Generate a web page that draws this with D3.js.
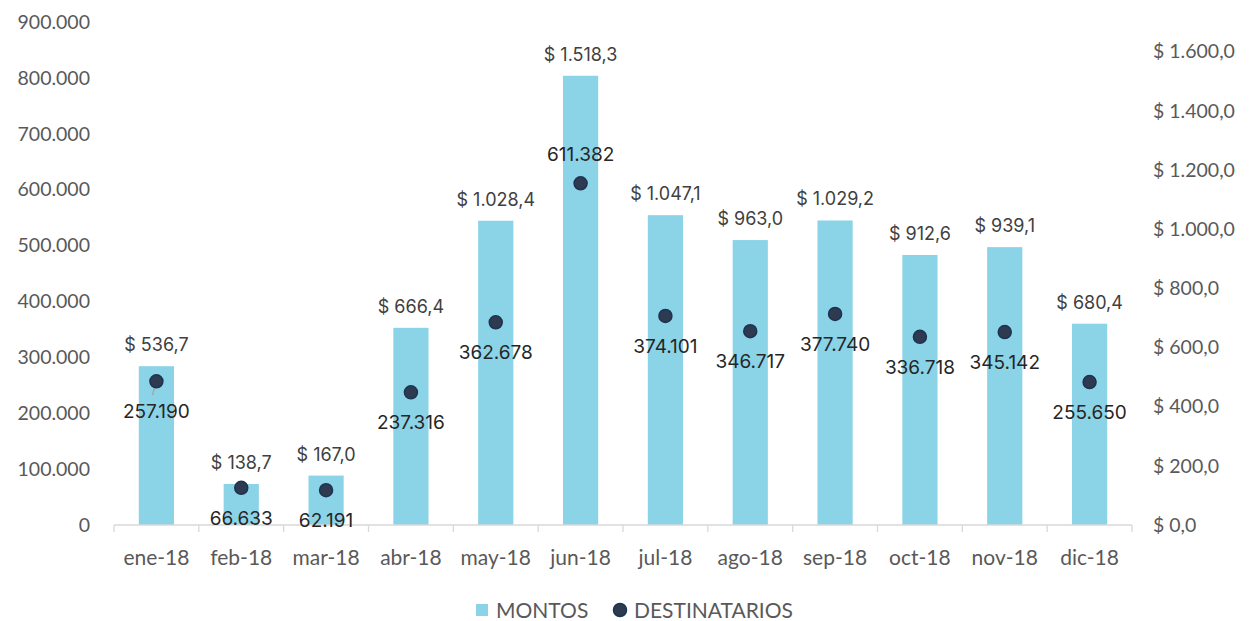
<!DOCTYPE html>
<html>
<head>
<meta charset="utf-8">
<script src="https://cdn.jsdelivr.net/npm/d3@7"></script>
<style>
  body { margin: 0; background: #fff; }
  .tick text { fill: #595959; }
</style>
</head>
<body>
<svg id="chart" width="1259" height="621"></svg>
<script>
var categories = ['ene-18', 'feb-18', 'mar-18', 'abr-18', 'may-18', 'jun-18', 'jul-18', 'ago-18', 'sep-18', 'oct-18', 'nov-18', 'dic-18'];
var montos = [536.7, 138.7, 167.0, 666.4, 1028.4, 1518.3, 1047.1, 963.0, 1029.2, 912.6, 939.1, 680.4];
var destinatarios = [257190, 66633, 62191, 237316, 362678, 611382, 374101, 346717, 377740, 336718, 345142, 255650];
var leftTicks = [0, 100000, 200000, 300000, 400000, 500000, 600000, 700000, 800000, 900000];
var rightTicks = [0, 200, 400, 600, 800, 1000, 1200, 1400, 1600];
var labelAbove = ['jun-18'];

var locale = d3.formatLocale({ decimal: ',', thousands: '.', grouping: [3], currency: ['$ ', ''] });
var fmtInt = locale.format(',d');
var fmtMoney = function (v) { return '$ ' + locale.format(',.1f')(v); };

var margin = { top: 22, right: 127, bottom: 96, left: 114 },
    width = 1259 - margin.left - margin.right,
    height = 621 - margin.top - margin.bottom;

var svg = d3.select('#chart'),
    g = svg.append('g').attr('transform', 'translate(' + margin.left + ',' + margin.top + ')');

var x = d3.scaleBand().domain(categories).range([0, width]).paddingInner(0.585).paddingOuter(0.2925);
var xb = d3.scaleBand().domain(categories).range([0, width]);
var yL = d3.scaleLinear().domain([0, 900000]).range([height, 0]);
var yR = d3.scaleLinear().domain([0, 1700]).range([height, 0]);

// left axis
var left = g.append('g')
    .call(d3.axisLeft(yL).tickValues(leftTicks).tickFormat(fmtInt).tickSize(0).tickPadding(24));
left.select('.domain').remove();
left.selectAll('.tick text').style('font-family', 'Lato').style('font-size', '19.5px');

// right axis
var right = g.append('g').attr('transform', 'translate(' + width + ',0)')
    .call(d3.axisRight(yR).tickValues(rightTicks).tickFormat(fmtMoney).tickSize(0).tickPadding(21));
right.select('.domain').remove();
right.selectAll('.tick text').style('font-family', 'Lato').style('font-size', '19.5px');

// bars
g.append('g').selectAll('rect')
    .data(montos)
  .enter().append('rect')
    .attr('x', function (d, i) { return x(categories[i]); })
    .attr('y', function (d) { return yR(d); })
    .attr('width', x.bandwidth())
    .attr('height', function (d) { return height - yR(d); })
    .attr('fill', '#8bd4e8');

// x axis
var xAxis = g.append('g').attr('transform', 'translate(0,' + height + ')');
xAxis.append('line').attr('x1', 0).attr('x2', width).attr('stroke', '#d9d9d9').attr('stroke-width', 1.3);
xAxis.selectAll('.sep')
    .data(d3.range(categories.length + 1))
  .enter().append('line')
    .attr('x1', function (i) { return i * xb.step(); })
    .attr('x2', function (i) { return i * xb.step(); })
    .attr('y1', 0).attr('y2', 7)
    .attr('stroke', '#d9d9d9').attr('stroke-width', 1.3);
xAxis.selectAll('.lbl')
    .data(categories)
  .enter().append('text')
    .attr('x', function (d) { return xb(d) + xb.bandwidth() / 2; })
    .attr('y', 40)
    .attr('text-anchor', 'middle')
    .style('font-family', 'Lato').style('font-size', '21px').attr('fill', '#595959')
    .text(function (d) { return d; });

// bar labels
g.append('g').selectAll('text')
    .data(montos)
  .enter().append('text')
    .attr('x', function (d, i) { return xb(categories[i]) + xb.bandwidth() / 2; })
    .attr('y', function (d) { return yR(d) - 15; })
    .attr('text-anchor', 'middle')
    .style('font-family', 'Inter').style('font-size', '18px').attr('fill', '#404040')
    .text(fmtMoney);

// leader line for ene-18
g.append('line')
    .attr('x1', xb(categories[0]) + xb.bandwidth() / 2)
    .attr('y1', yL(destinatarios[0]))
    .attr('x2', xb(categories[0]) + xb.bandwidth() / 2 - 4)
    .attr('y2', yL(destinatarios[0]) + 14)
    .attr('stroke', '#a6a6a6').attr('stroke-width', 1.5);

// dots
g.append('g').selectAll('circle')
    .data(destinatarios)
  .enter().append('circle')
    .attr('cx', function (d, i) { return xb(categories[i]) + xb.bandwidth() / 2; })
    .attr('cy', function (d) { return yL(d); })
    .attr('r', 6.5)
    .attr('fill', '#2e3a4f')
    .attr('stroke', '#1c3452').attr('stroke-width', 1.5);

// dot labels
g.append('g').selectAll('text')
    .data(destinatarios)
  .enter().append('text')
    .attr('x', function (d, i) { return xb(categories[i]) + xb.bandwidth() / 2; })
    .attr('y', function (d, i) { return yL(d) + (labelAbove.indexOf(categories[i]) >= 0 ? -22 : 37); })
    .attr('text-anchor', 'middle')
    .style('font-family', 'Inter').style('font-size', '19px').attr('fill', '#262626')
    .text(fmtInt);

// legend
var legend = svg.append('g').attr('transform', 'translate(0,610)');
legend.append('rect').attr('x', 476).attr('y', -6).attr('width', 12).attr('height', 12).attr('fill', '#8bd4e8');
legend.append('text').attr('x', 496).attr('y', 7.5).style('font-family', 'Lato').style('font-size', '21px')
    .attr('fill', '#595959').text('MONTOS');
legend.append('circle').attr('cx', 620).attr('cy', 0).attr('r', 6.5).attr('fill', '#2e3a4f')
    .attr('stroke', '#1c3452').attr('stroke-width', 1.5);
legend.append('text').attr('x', 634).attr('y', 7.5).style('font-family', 'Lato').style('font-size', '21px')
    .attr('fill', '#595959').text('DESTINATARIOS');
</script>
</body>
</html>
